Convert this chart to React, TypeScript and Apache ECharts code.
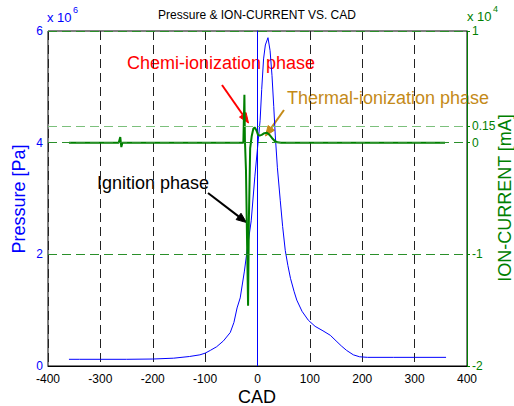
import React, { useEffect, useRef } from "react";
import * as echarts from "echarts";

// Crank angle (CAD) and cylinder pressure (x 10^6 Pa)
const pressureCad = [-360, -340, -300, -250, -200, -160, -130, -110, -100, -90, -78, -65, -52, -45, -39, -33, -25, -18, -12, -5, 0, 5, 8, 11.6, 15, 20, 24, 27.7, 31, 34, 38, 43.5, 48, 53, 58, 63, 70, 75, 85, 97, 110, 125, 139, 150, 160, 170, 183, 195, 210, 260, 300, 360];
const pressureVal = [0.12, 0.12, 0.12, 0.12, 0.125, 0.14, 0.17, 0.2, 0.23, 0.28, 0.345, 0.45, 0.6, 0.78, 1.04, 1.22, 1.7, 2.2, 2.6, 3.4, 3.9, 4.4, 4.95, 5.5, 5.75, 5.88, 5.65, 5.2, 4.65, 4.12, 3.55, 2.96, 2.5, 2.07, 1.8, 1.57, 1.33, 1.18, 0.98, 0.82, 0.71, 0.63, 0.55, 0.45, 0.36, 0.28, 0.2, 0.165, 0.155, 0.155, 0.155, 0.155];

// Crank angle (CAD) and ion current (x 10^4 mA)
const ionCad = [-360, -300, -265, -262, -260, -258, -200, -150, -100, -50, -27, -25, -24, -22, -18, -16.5, -14, -11, -8, -5.5, -2, 1, 4, 8, 13, 18, 23, 28, 33, 38, 45, 100, 200, 300, 358];
const ionVal = [0, 0, 0, 0.05, -0.04, 0, 0, 0, 0, 0, 0, 0.43, 0.02, -0.25, -1.46, -0.7, -0.05, 0.06, 0.125, 0.137, 0.11, 0.07, 0.063, 0.07, 0.085, 0.089, 0.07, 0.04, 0.015, 0.003, 0, 0, 0, 0, 0];

const xMin = -400;
const xMax = 400;
const xStep = 100;
const pressureTicks = { min: 0, max: 6, step: 2 };
const ionTickValues = [-2, -1, 0, 0.15, 1];
const ionGridValues = [1, 0.15, 0, -1];

const FONT = "'Liberation Sans', Arial, Helvetica, sans-serif";

function arrow(x1: number, y1: number, x2: number, y2: number, color: string) {
  const ang = Math.atan2(y2 - y1, x2 - x1);
  const len = 10;
  const hw = 4;
  const bx = x2 - len * Math.cos(ang);
  const by = y2 - len * Math.sin(ang);
  const px = -Math.sin(ang) * hw;
  const py = Math.cos(ang) * hw;
  return [
    { type: "line", shape: { x1, y1, x2: bx, y2: by }, style: { stroke: color, lineWidth: 2 }, silent: true },
    {
      type: "polygon",
      shape: { points: [[x2, y2], [bx + px, by + py], [bx - px, by - py]] },
      style: { fill: color, stroke: color, lineWidth: 1 },
      silent: true,
    },
  ];
}

export default function App() {
  const ref = useRef<HTMLDivElement>(null);
  useEffect(() => {
    if (!ref.current) return;
    const chart = echarts.init(ref.current, undefined, { renderer: "svg" });
    const blue = "#0000ff";
    const green = "#008000";
    const brown = "#c48a18";
    chart.setOption({
      animation: false,
      backgroundColor: "#ffffff",
      grid: {
        left: 48,
        right: 47,
        top: 31,
        bottom: 40,
        show: true,
        borderColor: "#000",
        borderWidth: 1,
        backgroundColor: "transparent",
        outerBoundsMode: "none",
      },
      xAxis: {
        type: "value",
        min: xMin,
        max: xMax,
        interval: xStep,
        axisLine: { show: true, lineStyle: { color: "#000", width: 1 } },
        axisTick: { show: false },
        axisLabel: { color: "#000", fontSize: 12, fontFamily: FONT, margin: 7 },
        splitLine: { show: true, lineStyle: { color: "#222", type: [9, 5], width: 1 } },
      },
      yAxis: [
        {
          type: "value",
          min: pressureTicks.min,
          max: pressureTicks.max,
          interval: pressureTicks.step,
          position: "left",
          axisLine: { show: true, lineStyle: { color: blue, width: 1 } },
          axisTick: { show: false },
          axisLabel: { color: blue, fontSize: 12, fontFamily: FONT, margin: 5 },
          splitLine: { show: false },
        },
        {
          type: "value",
          min: -2,
          max: 1,
          interval: 1,
          position: "right",
          axisLine: { show: true, lineStyle: { color: green, width: 1 } },
          axisTick: { show: true, length: 3, lineStyle: { color: green }, customValues: ionTickValues },
          axisLabel: {
            color: green,
            fontSize: 12,
            fontFamily: FONT,
            margin: 5,
            customValues: ionTickValues,
            formatter: (v: number) => String(v),
          },
          splitLine: { show: false },
        },
      ],
      series: [
        {
          type: "line",
          name: "Pressure",
          yAxisIndex: 0,
          data: pressureCad.map((c, i) => [c, pressureVal[i]]),
          symbol: "none",
          lineStyle: { color: blue, width: 1 },
          z: 2,
        },
        {
          type: "line",
          name: "Ion current",
          yAxisIndex: 1,
          data: ionCad.map((c, i) => [c, ionVal[i]]),
          symbol: "none",
          lineStyle: { color: green, width: 2 },
          z: 3,
          markLine: {
            silent: true,
            symbol: ["none", "none"],
            label: { show: false },
            animation: false,
            data: ionGridValues.map((v) => ({
              yAxis: v,
              lineStyle: { color: v === 0.15 ? "#7cc07c" : "#2a8f2a", type: [9, 5], width: 1 },
            })),
          },
        },
      ],
      graphic: [
        { type: "text", x: 257, y: 15, style: { text: "Pressure & ION-CURRENT VS. CAD", fill: "#000", font: `12px ${FONT}`, textAlign: "center", textVerticalAlign: "middle" }, silent: true },
        { type: "text", x: 47, y: 17, style: { text: "x 10", fill: blue, font: `13px ${FONT}`, textAlign: "left", textVerticalAlign: "middle" }, silent: true },
        { type: "text", x: 73, y: 10, style: { text: "6", fill: blue, font: `9px ${FONT}`, textAlign: "left", textVerticalAlign: "middle" }, silent: true },
        { type: "text", x: 467, y: 16, style: { text: "x 10", fill: green, font: `13px ${FONT}`, textAlign: "left", textVerticalAlign: "middle" }, silent: true },
        { type: "text", x: 493, y: 9, style: { text: "4", fill: green, font: `9px ${FONT}`, textAlign: "left", textVerticalAlign: "middle" }, silent: true },
        { type: "text", x: 257, y: 397, style: { text: "CAD", fill: "#000", font: `18px ${FONT}`, textAlign: "center", textVerticalAlign: "middle" }, silent: true },
        { type: "text", x: 19, y: 199, rotation: Math.PI / 2, style: { text: "Pressure [Pa]", fill: blue, font: `18px ${FONT}`, textAlign: "center", textVerticalAlign: "middle" }, silent: true },
        { type: "text", x: 505, y: 198, rotation: Math.PI / 2, style: { text: "ION-CURRENT [mA]", fill: green, font: `18px ${FONT}`, textAlign: "center", textVerticalAlign: "middle" }, silent: true },
        { type: "text", x: 127, y: 63, style: { text: "Chemi-ionization phase", fill: "#ff0000", font: `18px ${FONT}`, textAlign: "left", textVerticalAlign: "middle" }, silent: true },
        { type: "text", x: 287, y: 98, style: { text: "Thermal-ionization phase", fill: brown, font: `18px ${FONT}`, textAlign: "left", textVerticalAlign: "middle" }, silent: true },
        { type: "text", x: 97, y: 183, style: { text: "Ignition phase", fill: "#000", font: `18px ${FONT}`, textAlign: "left", textVerticalAlign: "middle" }, silent: true },
        ...arrow(222, 85, 248.5, 123, "#ff0000"),
        ...arrow(284, 110, 265.5, 136, brown),
        ...arrow(208, 193, 246.5, 222.5, "#000"),
      ],
    });
    return () => chart.dispose();
  }, []);
  return <div ref={ref} style={{ position: "fixed", left: 0, top: 0, width: 514, height: 406 }} />;
}
